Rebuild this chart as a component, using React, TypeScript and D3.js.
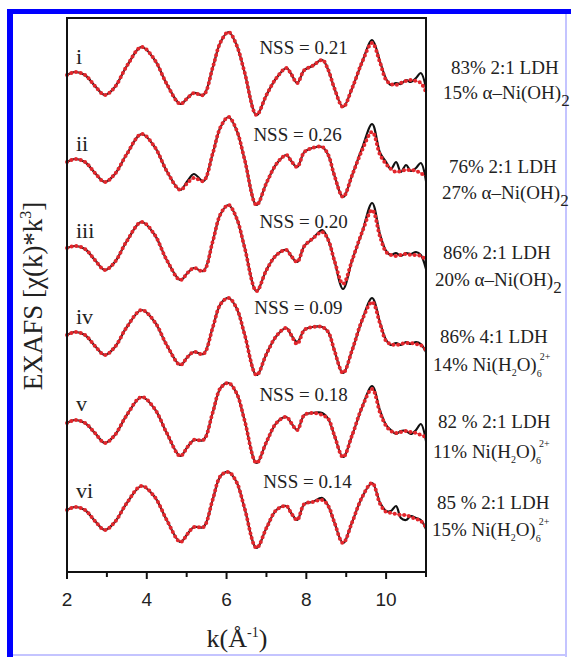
import React from "react";
import * as d3 from "d3";

// k grid (Å^-1) at which values were read
const K = [2.0, 2.2, 2.45, 2.7, 2.95, 3.2, 3.5, 3.87, 4.2, 4.5, 4.84, 5.02, 5.18, 5.42, 5.65, 5.85, 6.05, 6.25, 6.45, 6.75, 7.0, 7.25, 7.5, 7.62, 7.77, 7.95, 8.15, 8.4, 8.55, 8.7, 8.92, 9.15, 9.4, 9.65, 9.85, 10.0, 10.12, 10.25, 10.37, 10.5, 10.62, 10.75, 10.87, 11.0];

const SAMPLES = ["i", "ii", "iii", "iv", "v", "vi"];
const OFFSETS = [43.4, 34.7, 26.0, 17.4, 8.7, 0];
const NSS = ["NSS = 0.21", "NSS = 0.26", "NSS = 0.20", "NSS = 0.09", "NSS = 0.18", "NSS = 0.14"];
const NSS_K = [7.93, 7.78, 7.93, 7.8, 7.93, 8.03];

// experimental data (black)
const dataI = [0.3, 0.6, 0.3, -0.8, -1.7, -0.9, 1.2, 3.1, 1.8, -0.6, -2.6, -2.0, -1.5, -1.7, 1.0, 3.6, 4.6, 3.3, 0.6, -3.7, -1.7, 0.0, 1.0, 0.4, -0.5, 0.8, 1.2, 1.8, 0.8, -1.0, -2.9, -1.0, 1.6, 3.8, 1.6, -0.1, -0.7, -0.5, -0.6, -0.2, -0.4, 0.0, 0.5, -1.0];
const dataII = [0.3, 0.6, 0.3, -0.8, -1.7, -0.9, 1.1, 3.1, 1.8, -0.6, -2.5, -1.6, -0.9, -1.6, 1.1, 3.8, 4.8, 3.5, 0.6, -4.0, -1.8, 0.1, 1.0, 0.4, -0.2, 1.3, 1.7, 1.8, 1.0, -1.0, -3.2, -1.0, 1.7, 4.1, 1.2, 0.3, -0.4, 0.3, -0.7, 0.0, -0.6, -0.3, 0.2, -1.6];
const dataIII = [0.4, 0.6, 0.3, -0.8, -1.8, -1.0, 1.1, 3.0, 1.7, -0.8, -2.8, -2.1, -1.6, -1.9, 1.0, 3.8, 4.7, 3.4, 0.5, -3.9, -1.8, -0.3, 0.2, -0.4, -1.0, 0.6, 1.3, 2.2, 1.2, -0.8, -3.7, -0.8, 2.0, 4.9, 1.7, 0.1, -0.3, -0.1, -0.4, -0.1, -0.2, 0.0, -0.3, -1.7];
const dataIV = [0.3, 0.6, 0.3, -0.8, -1.7, -0.9, 1.1, 2.8, 1.6, -0.7, -2.7, -1.9, -1.4, -1.6, 1.0, 3.4, 4.0, 3.0, 0.4, -3.7, -1.6, 0.2, 1.0, 0.3, -0.4, 0.8, 1.1, 1.1, 0.6, -1.2, -3.5, -1.2, 1.8, 4.0, 1.5, -0.2, -0.7, -0.5, -0.7, -0.4, -0.6, -0.4, -0.6, -1.4];
const dataV = [0.2, 0.5, 0.2, -0.8, -1.8, -1.0, 1.0, 2.8, 1.6, -0.8, -3.1, -2.2, -1.5, -1.5, 1.2, 3.7, 4.2, 3.2, 0.5, -3.8, -1.7, 0.2, 0.8, 0.2, -0.5, 1.0, 1.2, 1.2, 0.6, -1.0, -3.2, -1.0, 1.8, 3.9, 1.4, 0.0, -0.5, -0.9, -0.6, -0.6, -0.9, -0.5, 0.1, -1.6];
const dataVI = [0.2, 0.5, 0.2, -0.9, -1.8, -1.0, 0.9, 2.6, 1.5, -0.8, -3.0, -2.2, -1.5, -1.5, 1.2, 3.6, 4.0, 3.0, 0.4, -3.6, -1.6, 0.2, 0.6, -0.1, -0.8, 0.8, 1.0, 1.4, 0.6, -1.0, -3.1, -1.0, 1.5, 2.9, 0.9, 0.1, 0.1, 0.6, -0.6, -0.8, -0.4, -0.6, -0.8, -1.7];

// linear-combination fits (red dotted)
const fitI = [0.3, 0.6, 0.3, -0.8, -1.7, -0.9, 1.2, 3.1, 1.8, -0.6, -2.6, -2.0, -1.5, -1.7, 1.0, 3.6, 4.6, 3.3, 0.6, -3.7, -1.7, 0.0, 1.0, 0.4, -0.5, 0.8, 1.2, 1.8, 0.8, -1.0, -2.9, -1.0, 1.6, 3.5, 1.5, -0.2, -0.6, -0.7, -0.5, -0.3, -0.2, -0.3, -0.5, -1.4];
const fitII = [0.3, 0.6, 0.3, -0.8, -1.7, -0.9, 1.1, 3.1, 1.8, -0.6, -2.5, -1.8, -1.3, -1.6, 1.1, 3.8, 4.8, 3.5, 0.6, -4.0, -1.8, 0.1, 1.0, 0.4, -0.2, 1.3, 1.7, 1.8, 1.0, -1.0, -3.2, -1.0, 1.5, 3.3, 1.0, 0.1, -0.4, -0.7, -0.6, -0.5, -0.5, -0.6, -0.8, -1.2];
const fitIII = [0.4, 0.6, 0.3, -0.8, -1.8, -1.0, 1.1, 3.0, 1.7, -0.8, -2.8, -2.1, -1.6, -1.9, 1.0, 3.8, 4.7, 3.4, 0.5, -3.9, -1.8, -0.3, 0.2, -0.4, -1.0, 0.6, 1.3, 2.0, 1.2, -0.8, -3.2, -0.8, 2.0, 4.2, 1.5, 0.0, -0.3, -0.4, -0.3, -0.2, -0.3, -0.3, -0.4, -0.8];
const fitIV = [0.3, 0.6, 0.3, -0.8, -1.7, -0.9, 1.1, 2.8, 1.6, -0.7, -2.7, -1.9, -1.4, -1.6, 1.0, 3.4, 4.0, 3.0, 0.4, -3.7, -1.6, 0.2, 1.0, 0.3, -0.6, 0.8, 1.1, 1.1, 0.6, -1.2, -3.5, -1.2, 1.8, 3.6, 1.4, -0.3, -0.6, -0.7, -0.6, -0.5, -0.5, -0.6, -0.7, -1.2];
const fitV = [0.2, 0.5, 0.2, -0.8, -1.8, -1.0, 1.0, 2.8, 1.6, -0.8, -3.1, -2.2, -1.5, -1.5, 1.2, 3.7, 4.2, 3.2, 0.5, -3.8, -1.7, 0.2, 0.8, 0.2, -0.5, 1.0, 1.2, 1.0, 0.6, -1.0, -3.2, -1.0, 1.8, 3.6, 1.2, -0.1, -0.6, -0.8, -0.7, -0.6, -0.7, -0.8, -1.0, -1.2];
const fitVI = [0.2, 0.5, 0.2, -0.9, -1.8, -1.0, 0.9, 2.6, 1.5, -0.8, -3.0, -2.2, -1.5, -1.5, 1.2, 3.6, 4.0, 3.0, 0.4, -3.6, -1.6, 0.2, 0.6, -0.1, -0.8, 0.8, 1.0, 1.2, 0.6, -1.0, -3.1, -1.0, 1.5, 2.9, 0.8, 0.0, -0.1, -0.2, -0.3, -0.3, -0.5, -0.7, -0.9, -1.5];

const DATA = [dataI, dataII, dataIII, dataIV, dataV, dataVI];
const FITS = [fitI, fitII, fitIII, fitIV, fitV, fitVI];

const X_TICKS = [2, 4, 6, 8, 10];
const X_MINOR = [3, 5, 7, 9, 11];

const LDH_LINES = ["83% 2:1 LDH", "76% 2:1 LDH", "86% 2:1 LDH", "86% 4:1 LDH", "82 % 2:1 LDH", "85 % 2:1 LDH"];
const SECOND_PCT = ["15%", "27%", "20%", "14%", "11%", "15%"];
const SECOND_KIND = ["aNiOH", "aNiOH", "aNiOH", "NiH2O", "NiH2O", "NiH2O"];

// layout (pixel positions of right-hand annotations)
const LDH_X = [451, 449, 443, 440, 438, 437];
const LDH_Y = [74, 173, 259, 343, 428, 509];
const SEC_X = [443, 442, 435, 433, 433, 432];
const SEC_Y = [99, 199, 286, 371, 458, 536];

const W = 571;
const H = 657;
const SERIF = "'Liberation Serif', 'DejaVu Serif', serif";
const SANS = "'Liberation Sans', Arial, sans-serif";
const RED = "#e2262c";
const TXT = "#222";

export default function App() {
  const x = d3.scaleLinear().domain([2, 11]).range([67, 426]);
  const y = d3.scaleLinear().domain([-6, 49.4]).range([572, 18]);

  const mkLine = (off: number) =>
    d3
      .line<number>()
      .x((_, i) => x(K[i]))
      .y((d) => y(d + off))
      .curve(d3.curveCatmullRom.alpha(0.5));

  return (
    <svg
      width={W}
      height={H}
      style={{ position: "absolute", left: 0, top: 0, background: "#fff" }}
    >
      <rect x={0} y={0} width={W} height={H} fill="#fff" />
      {/* page border */}
      <rect x={7} y={9} width={W - 7} height={5} fill="#0000ff" />
      <rect x={7} y={9} width={6} height={H - 9} fill="#0000ff" />
      <rect x={565} y={14} width={2} height={H - 14} fill="#c4c4ff" />
      <rect x={13} y={654} width={554} height={2} fill="#c4c4ff" />

      {/* curves */}
      {SAMPLES.map((s, i) => {
        const ln = mkLine(OFFSETS[i]);
        const dd = ln(DATA[i]) || "";
        const fd = ln(FITS[i]) || "";
        return (
          <g key={s}>
            <path d={dd} fill="none" stroke="#111" strokeWidth={2.2} />
            <path d={fd} fill="none" stroke={RED} strokeWidth={1} opacity={0.85} />
            <path
              d={fd}
              fill="none"
              stroke={RED}
              strokeWidth={4}
              strokeLinecap="round"
              strokeDasharray="0 4.8"
            />
          </g>
        );
      })}

      {/* frame */}
      <rect x={67} y={18} width={359} height={554} fill="none" stroke="#111" strokeWidth={2} />
      {X_TICKS.map((t) => (
        <g key={"M" + t}>
          <line x1={x(t)} x2={x(t)} y1={572} y2={579} stroke="#111" strokeWidth={2} />
          <text x={x(t)} y={606} textAnchor="middle" fontFamily={SANS} fontSize={19} fill={TXT}>
            {t}
          </text>
        </g>
      ))}
      {X_MINOR.map((t) => (
        <line key={"m" + t} x1={x(t)} x2={x(t)} y1={572} y2={577} stroke="#111" strokeWidth={2} />
      ))}

      {/* sample labels */}
      {SAMPLES.map((s, i) => (
        <text key={"l" + s} x={76} y={y(OFFSETS[i]) - 14} fontFamily={SERIF} fontSize={22} fill={TXT}>
          {s}
        </text>
      ))}
      {NSS.map((t, i) => (
        <text
          key={"n" + i}
          x={x(NSS_K[i])}
          y={y(OFFSETS[i]) - 24}
          textAnchor="middle"
          fontFamily={SERIF}
          fontSize={19}
          fill={TXT}
        >
          {t}
        </text>
      ))}

      {/* right-hand compositions */}
      {LDH_LINES.map((t, i) => (
        <g key={"c" + i} fontFamily={SERIF} fill={TXT}>
          <text x={LDH_X[i]} y={LDH_Y[i]} fontSize={19}>
            {t}
          </text>
          {SECOND_KIND[i] === "aNiOH" ? (
            <text x={SEC_X[i]} y={SEC_Y[i]} fontSize={19}>
              {SECOND_PCT[i]} α–Ni(OH)
              <tspan dy={7} fontSize={17}>2</tspan>
            </text>
          ) : (
            <text x={SEC_X[i]} y={SEC_Y[i]} fontSize={19}>
              {SECOND_PCT[i]} Ni(H
              <tspan dy={5} fontSize={10}>2</tspan>
              <tspan dy={-5}>O)</tspan>
              <tspan dy={6} fontSize={10}>6</tspan>
              <tspan dx={-2} dy={-17} fontSize={10}>2+</tspan>
            </text>
          )}
        </g>
      ))}

      {/* axis titles */}
      <text x={237} y={647} textAnchor="middle" fontFamily={SERIF} fontSize={26} fill={TXT}>
        k(Å
        <tspan dy={-10} fontSize={14}>-1</tspan>
        <tspan dy={10}>)</tspan>
      </text>
      <text
        transform="translate(42,296) rotate(-90)"
        textAnchor="middle"
        fontFamily={SERIF}
        fontSize={27}
        fill={TXT}
      >
        EXAFS [χ(k)*k
        <tspan dy={-11} fontSize={16}>3</tspan>
        <tspan dy={11}>]</tspan>
      </text>
    </svg>
  );
}
